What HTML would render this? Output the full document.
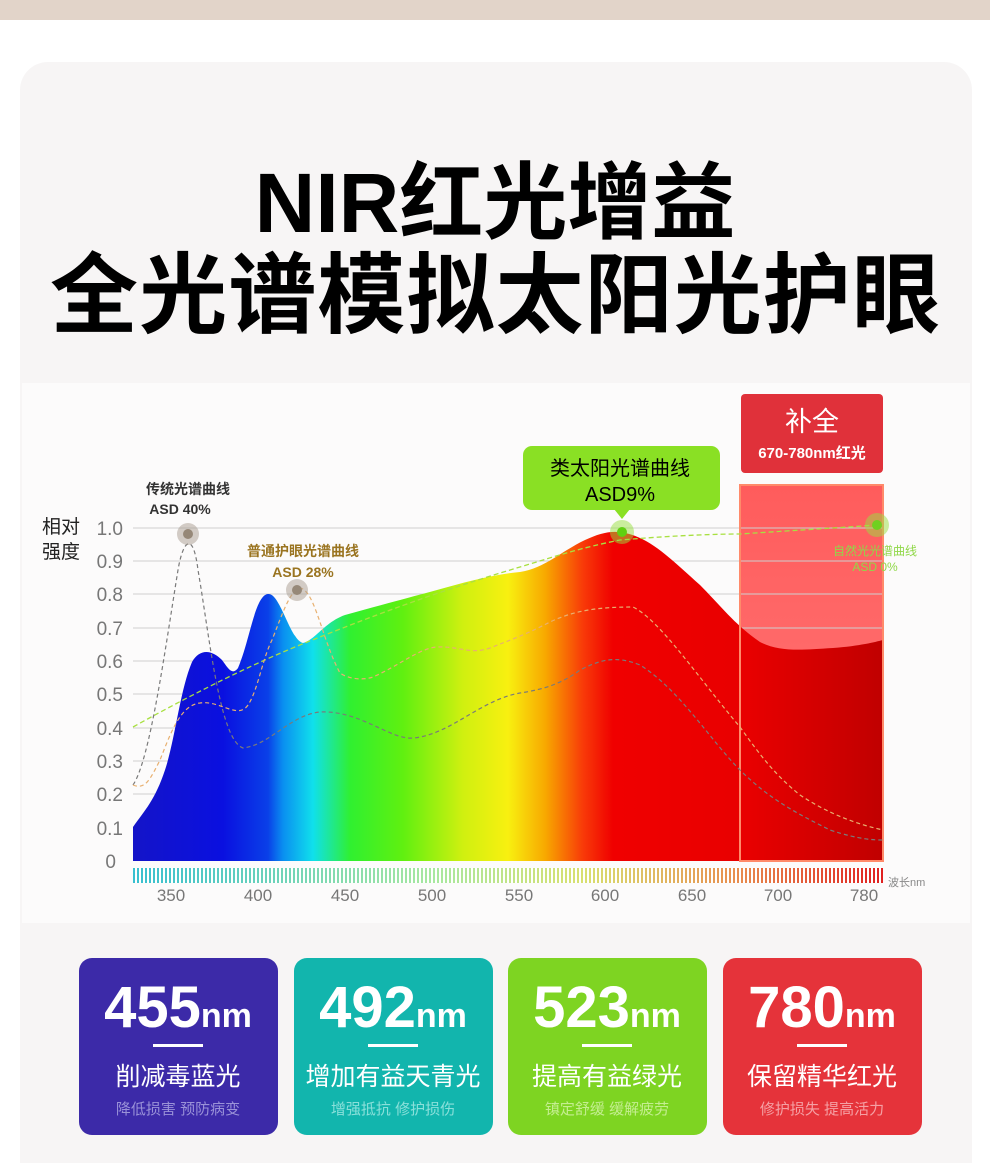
<!DOCTYPE html>
<html><head><meta charset="utf-8"><style>
html,body{margin:0;padding:0;background:#fff;}
svg{display:block;}
text{font-family:"Liberation Sans","Noto Sans CJK SC",sans-serif;}
</style></head><body>
<svg width="990" height="1163" viewBox="0 0 990 1163" xmlns="http://www.w3.org/2000/svg">
<defs>
<linearGradient id="spec" x1="133" x2="883" y1="0" y2="0" gradientUnits="userSpaceOnUse">
<stop offset="0" stop-color="#1414c8"/>
<stop offset="0.12" stop-color="#0a10e0"/>
<stop offset="0.18" stop-color="#0a40e8"/>
<stop offset="0.2" stop-color="#0a8ff0"/>
<stop offset="0.24" stop-color="#10e0ec"/>
<stop offset="0.29" stop-color="#30f030"/>
<stop offset="0.36" stop-color="#60f010"/>
<stop offset="0.44" stop-color="#d0f010"/>
<stop offset="0.5" stop-color="#f8f010"/>
<stop offset="0.55" stop-color="#f8a800"/>
<stop offset="0.6" stop-color="#f83a08"/>
<stop offset="0.64" stop-color="#f00000"/>
<stop offset="0.82" stop-color="#e80000"/>
<stop offset="1" stop-color="#c00000"/>
</linearGradient>
<linearGradient id="tick" x1="133" x2="883" y1="0" y2="0" gradientUnits="userSpaceOnUse">
<stop offset="0" stop-color="#38c0d0"/>
<stop offset="0.4" stop-color="#a8e8a0"/>
<stop offset="0.6" stop-color="#d8e070"/>
<stop offset="0.8" stop-color="#e89050"/>
<stop offset="1" stop-color="#e02020"/>
</linearGradient>
<pattern id="stripes" x="133" y="0" width="4" height="20" patternUnits="userSpaceOnUse">
<rect x="2" y="0" width="2" height="20" fill="#fff"/>
</pattern>
<linearGradient id="box" x1="0" y1="0" x2="0" y2="1">
<stop offset="0" stop-color="#ff5c5c"/>
<stop offset="1" stop-color="#ff7a7a"/>
</linearGradient>
</defs>
<rect x="0" y="0" width="990" height="20" fill="#e2d4c9"/>
<rect x="20" y="62" width="952" height="1130" rx="28" fill="#f7f5f5"/>
<rect x="22" y="383" width="948" height="540" fill="#fcfbfb"/>
<text x="495" y="232" text-anchor="middle" font-size="84" font-weight="bold" fill="#000">NIR红光增益</text>
<text x="495" y="326" text-anchor="middle" font-size="88" font-weight="bold" fill="#000" textLength="890">全光谱模拟太阳光护眼</text>

<!-- red box bg -->
<rect x="740" y="485" width="143" height="376" fill="url(#box)"/>
<!-- gridlines -->
<g stroke="#cfcfcf" stroke-width="1">
<line x1="133" x2="883" y1="528" y2="528"/><line x1="133" x2="883" y1="561" y2="561"/>
<line x1="133" x2="883" y1="594" y2="594"/><line x1="133" x2="883" y1="628" y2="628"/>
<line x1="133" x2="883" y1="661" y2="661"/><line x1="133" x2="883" y1="694" y2="694"/>
<line x1="133" x2="883" y1="728" y2="728"/><line x1="133" x2="883" y1="761" y2="761"/>
<line x1="133" x2="883" y1="794" y2="794"/><line x1="133" x2="883" y1="828" y2="828"/>
</g>
<!-- spectrum area -->
<path d="M133,861 L133,827 C145,810 155,800 165,770 C175,740 180,690 192,662 C200,648 212,650 222,660 C228,668 232,676 238,668 C250,640 255,595 268,594 C280,592 290,640 303,643 C315,640 325,622 345,615 C370,608 400,600 437,590 C465,582 495,574 520,572 C545,568 560,552 585,540 C600,533 612,530 625,533 C650,538 670,558 700,585 C720,605 735,625 760,642 C780,652 800,650 833,648 C860,646 875,642 883,640 L883,861 Z" fill="url(#spec)"/>
<rect x="740" y="485" width="143" height="376" fill="none" stroke="#ff8a6a" stroke-width="2"/>

<!-- dashed curves -->
<path d="M133,727 C200,690 260,660 320,637 C400,605 460,585 520,567 C560,555 580,548 620,540 C680,535 720,534 740,534 C800,530 850,527 877,525" fill="none" stroke="#a8e040" stroke-width="1.3" stroke-dasharray="5,3"/>
<path d="M133,785 C150,760 165,650 178,570 C183,540 193,530 198,570 C210,640 220,740 243,748 C270,745 290,715 320,712 C360,710 390,740 413,738 C450,735 480,700 520,693 C540,690 560,685 580,670 C600,660 615,655 640,665 C680,690 710,740 740,770 C770,800 800,815 830,830 C860,840 875,840 883,840" fill="none" stroke="#7a7a7a" stroke-width="1.2" stroke-dasharray="4,3"/>
<path d="M133,785 C145,790 150,780 160,760 C170,735 180,705 200,703 C220,700 238,720 248,705 C258,690 262,660 272,640 C282,615 290,590 300,588 C315,590 322,640 340,673 C350,680 365,680 373,677 C400,665 420,648 437,647 C460,646 470,655 490,648 C510,640 525,635 550,622 C575,610 600,607 633,607 C660,620 700,680 740,727 C760,755 775,775 800,795 C830,815 860,825 883,830" fill="none" stroke="#e8b070" stroke-width="1.2" stroke-dasharray="4,3"/>

<!-- markers -->
<circle cx="188" cy="534" r="11" fill="#a89c90" opacity="0.5"/><circle cx="188" cy="534" r="5" fill="#968878"/>
<circle cx="297" cy="590" r="11" fill="#a89c90" opacity="0.5"/><circle cx="297" cy="590" r="5" fill="#968878"/>
<circle cx="622" cy="532" r="12" fill="#98e040" opacity="0.5"/><circle cx="622" cy="532" r="5" fill="#60d010"/>
<circle cx="877" cy="525" r="12" fill="#98e040" opacity="0.5"/><circle cx="877" cy="525" r="5" fill="#70d020"/>

<!-- labels -->
<text x="188" y="494" text-anchor="middle" font-size="14" font-weight="bold" fill="#333">传统光谱曲线</text>
<text x="180" y="514" text-anchor="middle" font-size="14" font-weight="bold" fill="#333">ASD 40%</text>
<text x="303" y="556" text-anchor="middle" font-size="14" font-weight="bold" fill="#9a7420">普通护眼光谱曲线</text>
<text x="303" y="577" text-anchor="middle" font-size="14" font-weight="bold" fill="#9a7420">ASD 28%</text>
<text x="875" y="555" text-anchor="middle" font-size="12" fill="#90d848">自然光光谱曲线</text>
<text x="875" y="571" text-anchor="middle" font-size="12" fill="#90d848">ASD 0%</text>

<rect x="741" y="394" width="142" height="79" rx="4" fill="#e0313a"/>
<text x="812" y="431" text-anchor="middle" font-size="27" fill="#fff">补全</text>
<text x="812" y="458" text-anchor="middle" font-size="15" font-weight="bold" fill="#fff">670-780nm红光</text>

<rect x="523" y="446" width="197" height="64" rx="9" fill="#8ae024"/>
<path d="M614,509 L622,519 L630,509 Z" fill="#8ae024"/>
<text x="620" y="475" text-anchor="middle" font-size="20" fill="#000">类太阳光谱曲线</text>
<text x="620" y="501" text-anchor="middle" font-size="20" fill="#000">ASD9%</text>

<!-- y axis -->
<text x="42" y="533" font-size="19" fill="#222">相对</text>
<text x="42" y="558" font-size="19" fill="#222">强度</text>
<g font-size="19" fill="#777" text-anchor="end">
<text x="123" y="535">1.0</text><text x="123" y="568">0.9</text><text x="123" y="601">0.8</text>
<text x="123" y="635">0.7</text><text x="123" y="668">0.6</text><text x="123" y="701">0.5</text>
<text x="123" y="735">0.4</text><text x="123" y="768">0.3</text><text x="123" y="801">0.2</text>
<text x="123" y="835">0.1</text><text x="116" y="868">0</text>
</g>
<!-- x axis ticks -->
<rect x="133" y="868" width="750" height="15" fill="url(#tick)"/>
<rect x="133" y="868" width="750" height="15" fill="url(#stripes)"/>
<g font-size="17" fill="#777" text-anchor="middle">
<text x="171" y="901">350</text><text x="258" y="901">400</text><text x="345" y="901">450</text>
<text x="432" y="901">500</text><text x="519" y="901">550</text><text x="605" y="901">600</text>
<text x="692" y="901">650</text><text x="778" y="901">700</text><text x="864" y="901">780</text>
</g>
<text x="888" y="886" font-size="11" fill="#888">波长nm</text>

<!-- cards -->
<g>
<rect x="79" y="958" width="199" height="177" rx="13" fill="#3c2aa8"/>
<rect x="294" y="958" width="199" height="177" rx="13" fill="#12b5ad"/>
<rect x="508" y="958" width="199" height="177" rx="13" fill="#7ed422"/>
<rect x="723" y="958" width="199" height="177" rx="13" fill="#e5333a"/>
</g>
<g fill="#fff" font-weight="bold">
<text x="178" y="1027" text-anchor="middle"><tspan font-size="58">455</tspan><tspan font-size="34">nm</tspan></text>
<text x="393" y="1027" text-anchor="middle"><tspan font-size="58">492</tspan><tspan font-size="34">nm</tspan></text>
<text x="607" y="1027" text-anchor="middle"><tspan font-size="58">523</tspan><tspan font-size="34">nm</tspan></text>
<text x="822" y="1027" text-anchor="middle"><tspan font-size="58">780</tspan><tspan font-size="34">nm</tspan></text>
</g>
<g fill="#fff">
<rect x="153" y="1044" width="50" height="3"/><rect x="368" y="1044" width="50" height="3"/>
<rect x="582" y="1044" width="50" height="3"/><rect x="797" y="1044" width="50" height="3"/>
</g>
<g fill="#fff" font-size="25" text-anchor="middle">
<text x="178" y="1085">削减毒蓝光</text><text x="393" y="1085">增加有益天青光</text>
<text x="607" y="1085">提高有益绿光</text><text x="822" y="1085">保留精华红光</text>
</g>
<g font-size="15" text-anchor="middle">
<text x="178" y="1114" fill="#9a92d8">降低损害 预防病变</text>
<text x="393" y="1114" fill="#8ae0da">增强抵抗 修护损伤</text>
<text x="607" y="1114" fill="#c4ee90">镇定舒缓 缓解疲劳</text>
<text x="822" y="1114" fill="#f5a0a4">修护损失 提高活力</text>
</g>
</svg>
</body></html>
